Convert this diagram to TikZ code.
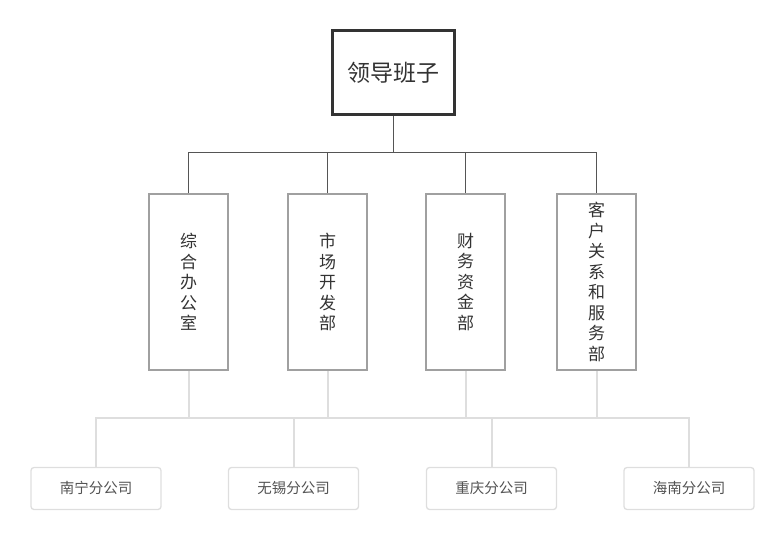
\documentclass[tikz,border=0pt]{standalone}
\usepackage{fontspec}
\usepackage{tikz}
\newfontfamily\cjk{Noto Sans CJK SC}
\definecolor{darkline}{HTML}{555555}
\definecolor{midframe}{HTML}{A0A0A0}
\definecolor{lightline}{HTML}{DEDEDE}
\definecolor{txt}{HTML}{333333}
\newcommand{\vtext}[1]{\fontsize{17}{20.5}\selectfont #1}

\begin{document}
\begin{tikzpicture}[x=1pt,y=-1pt,
    leadbox/.style={draw=black!80,line width=3pt,minimum width=122pt,minimum height=84pt,
      inner sep=0pt,font=\cjk\fontsize{23}{26}\selectfont,text=txt},
    deptbox/.style={draw=midframe,line width=2pt,minimum width=79pt,minimum height=176pt,
      inner sep=0pt,align=center,font=\cjk\vtext{},text=txt},
    branchbox/.style={draw=lightline,line width=1.3pt,rounded corners=3pt,minimum width=130pt,
      minimum height=42pt,inner sep=0pt,text height=11.5pt,text depth=2.5pt,
      font=\cjk\fontsize{14.5}{17}\selectfont,text=txt!85},
    upper/.style={darkline,line width=1.9pt},
    lower/.style={lightline,line width=2pt}]
       \useasboundingbox (0,0) rectangle (784,540);
       \node[leadbox] (lead) at (393.5,72.5) {领导班子};
       \node[deptbox] (d1) at (188.5,282) {综\\合\\办\\公\\室};
       \node[deptbox] (d2) at (327.5,282) {市\\场\\开\\发\\部};
       \node[deptbox] (d3) at (465.5,282) {财\\务\\资\\金\\部};
       \node[deptbox] (d4) at (596.5,282) {客\\户\\关\\系\\和\\服\\务\\部};
       \node[branchbox] (b1) at (96,488.5) {南宁分公司};
       \node[branchbox] (b2) at (293.5,488.5) {无锡分公司};
       \node[branchbox] (b3) at (491.5,488.5) {重庆分公司};
       \node[branchbox] (b4) at (689,488.5) {海南分公司};
       \coordinate (bus1) at (393.5,152.5);
       \coordinate (bus2) at (393.5,418);
       % leader to departments
       \draw[upper] (lead.south) -- (bus1);
       \foreach \d in {d1,d2,d3,d4}
         \draw[upper] (bus1) -| (\d.north);
       % departments to branches
       \foreach \d in {d1,d2,d3,d4}
         \draw[lower] (\d.south) -- (\d.south |- bus2);
       \foreach \b in {b1,b2,b3,b4}
         \draw[lower] (bus2) -| (\b.north);
      \end{tikzpicture}
\end{document}
